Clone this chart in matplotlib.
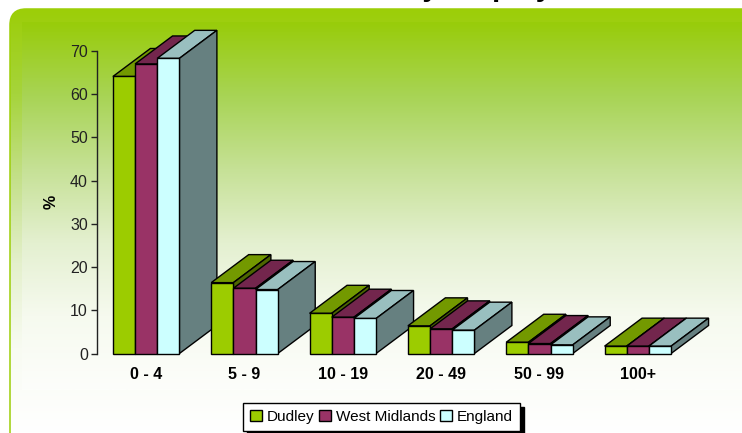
import matplotlib.pyplot as plt
import numpy as np
from matplotlib.colors import LinearSegmentedColormap
from matplotlib.patches import FancyBboxPatch, Patch, Rectangle, Polygon

plt.rcParams['font.family'] = ['Liberation Sans', 'DejaVu Sans']

# Read data
categories = ['0 - 4', '5 - 9', '10 - 19', '20 - 49', '50 - 99', '100+']
series_names = ['Dudley', 'West Midlands', 'England']
dudley = [64.1, 16.4, 9.3, 6.4, 2.6, 1.7]
west_midlands = [67.0, 15.1, 8.4, 5.7, 2.3, 1.7]
england = [68.3, 14.8, 8.1, 5.4, 2.0, 1.7]
y_ticks = [0, 10, 20, 30, 40, 50, 60, 70]

front_colors = ['#9CCC00', '#993366', '#CCFFFF']
top_colors = ['#739900', '#73264D', '#99BFBF']
side_colors = ['#4D6600', '#4D1A33', '#668080']

W, H = 742, 433
fig = plt.figure(figsize=(W / 100, H / 100), dpi=100, facecolor='white')

# background panels with vertical gradient
bg = fig.add_axes([0, 0, 1, 1])
bg.set_xlim(0, W)
bg.set_ylim(H, 0)
bg.axis('off')

cmap = LinearSegmentedColormap.from_list('bg', [
    (0.0, '#9CCE08'), (0.2, '#A6D43C'), (0.4, '#C4E08A'),
    (0.6, '#E4F0CC'), (0.8, '#F8FBF2'), (1.0, '#FFFFFF')])
outer = FancyBboxPatch((10, 9), 800, 440, boxstyle='round,pad=0,rounding_size=16',
                       facecolor='none', edgecolor='#9CCE08', linewidth=1.1)
bg.add_patch(outer)
im = bg.imshow(np.linspace(0, 1, 256).reshape(-1, 1), extent=(10, 810, 433, 9),
               cmap=cmap, aspect='auto', vmin=0, vmax=1)
im.set_clip_path(outer)
bg.set_xlim(0, W)
bg.set_ylim(H, 0)

cmap2 = LinearSegmentedColormap.from_list('inner', [
    (0.0, '#98CC0A'), (0.2, '#A8D455'), (0.4, '#C6E196'),
    (0.6, '#E4F0D0'), (0.8, '#F6FAEF'), (1.0, '#FDFEFB')])
bg.imshow(np.linspace(0, 1, 256).reshape(-1, 1), extent=(22, W, 390, 22),
          cmap=cmap2, aspect='auto', vmin=0, vmax=1)
bg.set_xlim(0, W)
bg.set_ylim(H, 0)

# title is cut off by the top of the picture, only descenders show
fig.text(317 / W, 1 + 3.5 / H, 'Firms by Employment', fontsize=21, fontweight='bold',
         ha='left', va='baseline', color='black')

# chart
ax = fig.add_axes([97 / W, 1 - 353.5 / H, 590 / W, 302.5 / H])
ax.patch.set_visible(False)
ax.set_xlim(-0.5, 5.5)
ax.set_ylim(0, 70)

bar_w = 0.2255
depth_x = 0.381
depth_y = 6.48

values = [dudley, west_midlands, england]
for i in range(len(categories)):
    for s in range(3):
        x0 = i - 1.5 * bar_w + s * bar_w
        x1 = x0 + bar_w
        v = values[s][i]
        top = [(x0, v), (x1, v), (x1 + depth_x, v + depth_y), (x0 + depth_x, v + depth_y)]
        side = [(x1, 0), (x1 + depth_x, depth_y), (x1 + depth_x, v + depth_y), (x1, v)]
        ax.add_patch(Polygon(top, closed=True, facecolor=top_colors[s], edgecolor='black',
                             linewidth=1, clip_on=False))
        ax.add_patch(Polygon(side, closed=True, facecolor=side_colors[s], edgecolor='black',
                             linewidth=1, clip_on=False))
        ax.add_patch(Rectangle((x0, 0), bar_w, v, facecolor=front_colors[s], edgecolor='black',
                               linewidth=1, clip_on=False))

for name in ['top', 'right', 'bottom']:
    ax.spines[name].set_visible(False)
ax.spines['left'].set_linewidth(1)
ax.spines['left'].set_color('#222222')

ax.set_yticks(y_ticks)
ax.tick_params(axis='y', length=4, width=1, pad=2.5, labelsize=11.5, colors='#222222')
ax.set_xticks(range(len(categories)))
ax.set_xticklabels(categories, fontsize=11.5, fontweight='bold')
ax.tick_params(axis='x', length=0, pad=9.5)
fig.text(51 / W, 1 - 202 / H, '%', fontsize=11.5, fontweight='bold', rotation=90,
         ha='center', va='center')

# legend
handles = [Patch(facecolor=c, edgecolor='black', linewidth=1) for c in front_colors]
leg = fig.legend(handles, series_names, loc='center', ncol=3,
                 bbox_to_anchor=(381.5 / W, 1 - 416.9 / H), fontsize=11,
                 fancybox=False, edgecolor='black', framealpha=1, facecolor='white',
                 handlelength=0.75, handleheight=0.75, handletextpad=0.35,
                 columnspacing=0.3, borderpad=0.45, borderaxespad=0,
                 shadow={'color': 'black', 'alpha': 1, 'ox': 3, 'oy': -3})
leg.get_frame().set_linewidth(1)

fig.savefig('out.png', dpi=100)
